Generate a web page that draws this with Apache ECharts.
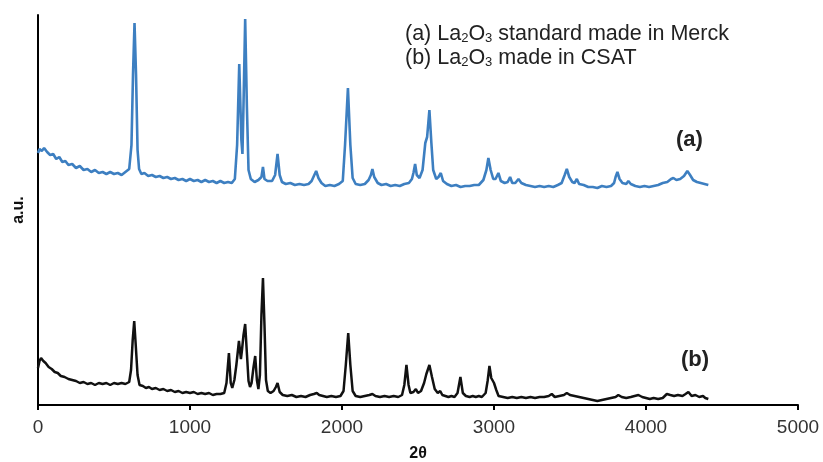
<!DOCTYPE html>
<html lang="en">
  <head>
    <meta charset="UTF-8" />
    <title>XRD La2O3</title>
    <script src="https://cdn.jsdelivr.net/npm/echarts@6/dist/echarts.min.js"></script>
    <style>
      body { margin: 0; }
      #box { width: 823px; height: 462px; background: #fff; }
    </style>
  </head>
  <body>
    <div id="box"></div>
    <script>
      // x ticks
      var xTicks = [0, 1000, 2000, 3000, 4000, 5000];

      // (a) La2O3 standard made in Merck  [2θ, intensity a.u.]
      var serieA = [
        [0,252],[10,256],[25,254],[40,257],[60,253],[80,250],[100,251],[120,246],[140,248],[160,243],[180,244],[200,240],
        [225,241],[250,237],[275,239],[300,235],[325,236],[350,233],[375,235],[400,232],[425,233],[450,231],[475,233],
        [500,231],[525,232],[550,230],[575,233],[600,236],[615,260],[625,330],[635,382],[645,330],[655,255],[665,236],
        [680,231],[700,232],[725,229],[750,230],[775,228],[800,229],[825,227],[850,228],[875,226],[900,227],[925,225],
        [950,226],[975,224],[1000,226],[1025,224],[1050,225],[1075,223],[1100,225],[1125,223],[1150,224],[1175,222],
        [1200,224],[1225,222],[1250,223],[1275,222],[1295,226],[1310,260],[1324,341],[1338,265],[1345,251],[1352,300],
        [1363,386],[1374,300],[1385,235],[1400,226],[1425,223],[1450,225],[1470,228],[1480,238],[1490,226],[1510,224],
        [1540,224],[1560,230],[1576,251],[1590,230],[1605,223],[1630,221],[1660,222],[1690,220],[1720,221],[1750,220],
        [1780,221],[1800,224],[1815,229],[1830,234],[1845,227],[1865,222],[1890,219],[1920,220],[1950,219],[1980,221],
        [2005,224],[2020,260],[2039,317],[2055,260],[2070,227],[2090,221],[2120,220],[2150,221],[2175,225],[2190,230],
        [2200,236],[2212,228],[2235,222],[2260,220],[2290,221],[2320,219],[2350,220],[2380,219],[2410,221],[2440,222],
        [2460,226],[2470,232],[2481,241],[2492,230],[2510,227],[2530,235],[2548,262],[2560,268],[2575,295],[2588,262],
        [2600,235],[2620,226],[2635,228],[2650,232],[2665,224],[2690,221],[2720,219],[2750,220],[2780,218],[2810,219],
        [2840,219],[2870,220],[2900,220],[2930,225],[2950,235],[2963,247],[2978,235],[2995,226],[3010,226],[3029,232],
        [3045,224],[3070,222],[3090,223],[3106,228],[3120,222],[3140,222],[3161,226],[3180,222],[3210,220],[3240,219],
        [3270,218],[3300,219],[3330,218],[3360,219],[3390,218],[3420,220],[3445,222],[3465,230],[3479,236],[3495,228],
        [3515,223],[3530,222],[3545,226],[3560,221],[3590,220],[3620,218],[3650,218],[3680,217],[3710,219],[3740,218],
        [3770,219],[3790,222],[3800,228],[3812,233],[3826,226],[3845,222],[3870,221],[3884,224],[3900,221],[3930,219],
        [3960,218],[3990,219],[4020,218],[4050,219],[4080,220],[4110,222],[4140,223],[4165,226],[4180,227],[4200,225],
        [4225,226],[4250,229],[4272,234],[4290,230],[4310,225],[4335,223],[4360,222],[4385,221],[4410,220]
      ];

      // (b) La2O3 made in CSAT
      var serieB = [
        [0,37],[10,44],[20,47],[35,44],[50,42],[70,38],[90,36],[110,33],[130,32],[150,29],[175,28],[200,26],[225,25],
        [250,24],[275,22],[300,23],[325,21],[350,22],[375,20],[400,22],[425,21],[450,22],[475,20],[500,22],[525,21],
        [550,22],[575,21],[600,23],[612,35],[623,65],[633,84],[643,60],[655,30],[668,20],[690,19],[710,17],[730,18],
        [750,16],[775,17],[800,15],[825,16],[850,14],[875,15],[900,13],[925,14],[950,12],[975,13],[1000,12],[1025,13],
        [1050,11],[1075,12],[1100,11],[1125,12],[1150,10],[1175,11],[1200,11],[1225,12],[1240,22],[1256,52],[1268,22],
        [1278,17],[1292,25],[1305,40],[1322,64],[1335,46],[1342,55],[1352,70],[1363,81],[1375,50],[1385,24],[1395,18],
        [1405,22],[1418,38],[1429,49],[1440,25],[1450,16],[1460,30],[1470,90],[1480,127],[1490,80],[1500,25],[1512,14],
        [1530,12],[1550,14],[1565,18],[1576,22],[1590,13],[1610,10],[1640,9],[1670,10],[1700,8],[1730,9],[1760,8],
        [1790,10],[1815,11],[1834,12],[1850,10],[1875,9],[1900,8],[1930,9],[1960,8],[1990,9],[2010,14],[2025,40],
        [2041,72],[2055,40],[2070,14],[2090,9],[2120,8],[2150,9],[2180,10],[2200,11],[2220,9],[2250,8],[2280,9],
        [2310,8],[2340,9],[2370,8],[2395,10],[2410,20],[2424,40],[2438,20],[2450,12],[2470,13],[2486,16],[2500,12],
        [2520,14],[2540,22],[2555,31],[2575,40],[2592,28],[2610,16],[2630,12],[2646,14],[2660,10],[2680,9],[2700,8],
        [2720,9],[2740,8],[2760,12],[2779,28],[2795,12],[2815,9],[2840,8],[2860,9],[2880,8],[2900,9],[2920,8],
        [2945,12],[2958,24],[2970,39],[2982,27],[3000,22],[3015,15],[3030,9],[3060,8],[3090,7],[3120,8],[3150,7],
        [3180,8],[3210,7],[3240,8],[3270,7],[3300,8],[3330,8],[3360,9],[3380,11],[3400,8],[3430,9],[3460,10],
        [3479,12],[3500,10],[3530,9],[3560,8],[3590,7],[3620,6],[3650,5],[3680,4],[3710,5],[3740,6],[3770,7],
        [3800,8],[3818,10],[3840,8],[3870,7],[3900,8],[3925,9],[3950,10],[3975,8],[4000,7],[4025,6],[4050,7],
        [4080,6],[4110,7],[4137,11],[4160,10],[4185,9],[4210,10],[4240,9],[4260,11],[4279,13],[4300,9],[4325,10],
        [4350,8],[4375,9],[4390,7],[4410,6]
      ];

      var font = "Liberation Sans, Arial, sans-serif";
      var myChart = echarts.init(document.getElementById("box"));

      var option = {
        animation: false,
        backgroundColor: "#fff",
        grid: { left: 38, right: 25, top: 15, bottom: 57, outerBoundsMode: "none" },
        xAxis: {
          type: "value",
          min: xTicks[0],
          max: xTicks[xTicks.length - 1],
          interval: 1000,
          name: "2θ",
          nameLocation: "middle",
          nameGap: 41,
          nameTextStyle: { fontFamily: font, fontSize: 16, fontWeight: "bold", color: "#111" },
          axisLine: { lineStyle: { color: "#000", width: 2 } },
          axisTick: { show: true, length: 5, lineStyle: { color: "#000", width: 2 } },
          axisLabel: {
            fontFamily: font, fontSize: 19, color: "#333", margin: 13,
            formatter: function (v) { return String(v); }
          },
          splitLine: { show: false }
        },
        yAxis: {
          type: "value",
          min: 0,
          max: 390,
          name: "a.u.",
          nameLocation: "middle",
          nameRotate: 90,
          nameGap: 11,
          nameTextStyle: { fontFamily: font, fontSize: 16, fontWeight: "bold", color: "#111" },
          axisLine: { show: true, lineStyle: { color: "#000", width: 2 } },
          axisTick: { show: false },
          axisLabel: { show: false },
          splitLine: { show: false }
        },
        series: [
          {
            name: "a",
            type: "line",
            data: serieA,
            showSymbol: false,
            lineStyle: { color: "#3d7fc1", width: 2.6 },
            z: 3
          },
          {
            name: "b",
            type: "line",
            data: serieB,
            showSymbol: false,
            lineStyle: { color: "#111", width: 2.5 },
            z: 3
          }
        ],
        graphic: [
          // legend text
          {
            type: "text",
            left: 405,
            top: 22,
            style: {
              text: "(a) La{s|2}O{s|3} standard made in Merck\n(b) La{s|2}O{s|3} made in CSAT",
              font: "21.5px " + font,
              fill: "#222",
              lineHeight: 24,
              rich: {
                s: { fontSize: 13, fontFamily: font, fill: "#222", padding: [9, 0, 0, 0] }
              }
            }
          },
          { type: "text", left: 676, top: 129, style: { text: "(a)", font: "bold 22px " + font, fill: "#222" } },
          { type: "text", left: 681, top: 349, style: { text: "(b)", font: "bold 22px " + font, fill: "#222" } }
        ]
      };
      myChart.setOption(option);
    </script>
  </body>
</html>
